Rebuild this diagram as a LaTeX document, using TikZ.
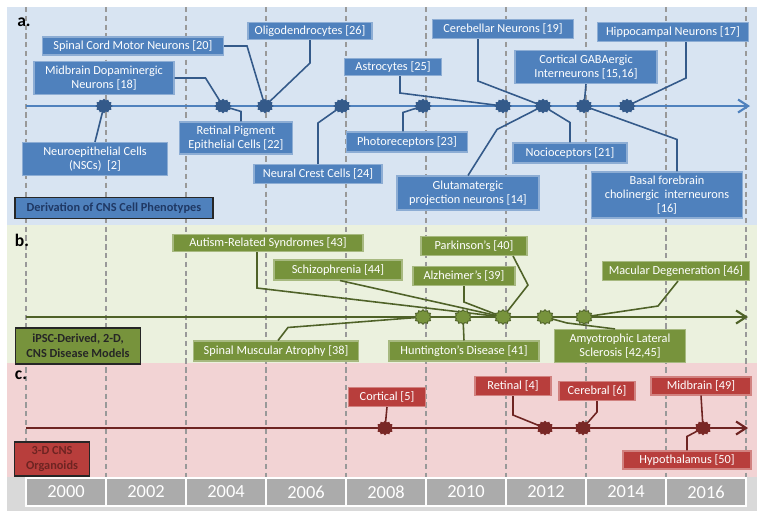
\documentclass[tikz,border=0pt]{standalone}
\usepackage{fontspec}
\setmainfont{Carlito}
\usetikzlibrary{calc,arrows.meta,shapes.geometric}

\definecolor{bandblue}{RGB}{216,228,242}
\definecolor{bandgreen}{RGB}{235,241,222}
\definecolor{bandred}{RGB}{242,211,212}
\definecolor{boxblue}{RGB}{79,129,189}
\definecolor{boxgreen}{RGB}{119,147,60}
\definecolor{boxred}{RGB}{184,62,60}
\definecolor{darkblue}{RGB}{52,90,138}
\definecolor{darkgreen}{RGB}{79,98,40}
\definecolor{darkred}{RGB}{110,36,34}
\definecolor{navy}{RGB}{31,56,100}

\begin{document}
\begin{tikzpicture}[
  x=0.2mm, y=-0.2mm,
  every node/.style={font=\fontsize{7}{8}\selectfont, align=center, inner sep=1pt},
  boxA/.style={fill=boxblue, draw=white!35!boxblue, line width=0.6pt, text=white},
  boxB/.style={fill=boxgreen, draw=white!35!boxgreen, line width=0.6pt, text=white},
  boxC/.style={fill=boxred, draw=white!35!boxred, line width=0.6pt, text=white},
  titlebox/.style={draw=black!85, line width=1pt, font=\fontsize{7}{8.5}\selectfont\bfseries},
  panel/.style={font=\fontsize{10}{12}\selectfont\bfseries},
  linkA/.style={draw=darkblue, line width=0.9pt},
  linkB/.style={draw=darkgreen, line width=0.9pt},
  linkC/.style={draw=darkred, line width=0.9pt},
  timeA/.style={draw=boxblue, line width=1.2pt, -{Straight Barb[length=2mm,width=2.6mm]}},
  timeB/.style={draw=darkgreen, line width=1.2pt, -{Straight Barb[length=2mm,width=2.6mm]}},
  timeC/.style={draw=darkred, line width=1.2pt, -{Straight Barb[length=2mm,width=2.6mm]}},
  event/.style={star, star points=12, star point ratio=1.25, minimum size=2.9mm, inner sep=0pt, xscale=1.2},
  yearline/.style={draw=black!40, line width=1.2pt, dash pattern=on 3pt off 2pt},
  yearbox/.style={fill=black!33, draw=white, line width=1pt, text=white,
    minimum width=16mm, minimum height=5.5mm, font=\fontsize{10.5}{12}\selectfont}
]
\useasboundingbox (0,0) rectangle (760,511);

% bands
\fill[bandblue] (7,7) rectangle (757,225);
\fill[bandgreen] (7,225) rectangle (757,363);
\fill[bandred] (7,363) rectangle (757,477);
\fill[black!15] (7,477) rectangle (757,511);

% year grid
\foreach \x in {26,106,...,746}
  \draw[yearline] (\x,7) -- (\x,477);
\foreach \yr [count=\i from 0] in {2000,2002,...,2016}
  \node[yearbox] (y\yr) at (66+80*\i,492) {\yr};

% time lines
\coordinate (startA) at (26,106);  \coordinate (endA) at (750,106);
\coordinate (startB) at (26,317);  \coordinate (endB) at (748,317);
\coordinate (startC) at (26,428);  \coordinate (endC) at (748,428);
\draw[timeA] (startA) -- (endA);
\draw[timeB] (startB) -- (endB);
\draw[timeC] (startC) -- (endC);

% a. cell phenotypes
\node[panel] (labA) at (24,22) {a.};
\node[boxA, minimum width=29mm, minimum height=6.6mm] (nscs) at (95,159) {Neuroepithelial Cells\\(NSCs)\ \ [2]};
\node[boxA, minimum width=28mm, minimum height=6.6mm] (dopa) at (104,78) {Midbrain Dopaminergic\\Neurons [18]};
\node[boxA, minimum width=36.2mm, minimum height=3.6mm] (spinal) at (133,46) {Spinal Cord Motor Neurons [20]};
\node[boxA, minimum width=24.8mm, minimum height=3.4mm] (oligo) at (310,31) {Oligodendrocytes [26]};
\node[boxA, minimum width=22.6mm, minimum height=6.4mm] (rpe) at (236,138) {Retinal Pigment\\Epithelial Cells [22]};
\node[boxA, minimum width=25.6mm, minimum height=3.8mm] (crest) at (318,174) {Neural Crest Cells [24]};
\node[boxA, minimum width=19.4mm, minimum height=3.4mm] (astro) at (393,67) {Astrocytes [25]};
\node[boxA, minimum width=24.2mm, minimum height=4mm] (photo) at (407,142) {Photoreceptors [23]};
\node[boxA, minimum width=28.2mm, minimum height=3.8mm] (cereb) at (503,29) {Cerebellar Neurons [19]};
\node[boxA, minimum width=30.2mm, minimum height=3.8mm] (hippo) at (673,32) {Hippocampal Neurons [17]};
\node[boxA, minimum width=28.4mm, minimum height=6.6mm] (gaba) at (586,67) {Cortical GABAergic\\Interneurons [15,16]};
\node[boxA, minimum width=22.8mm, minimum height=4mm] (noci) at (570,153) {Nocioceptors [21]};
\node[boxA, minimum width=28.4mm, minimum height=6.8mm] (gluta) at (468,193) {Glutamatergic\\projection neurons [14]};
\node[boxA, minimum width=30.2mm, minimum height=9.2mm] (basal) at (667,195) {Basal forebrain\\cholinergic\ \ interneurons\\{}[16]};
\node[titlebox, fill=boxblue, text=navy, minimum width=39.6mm, minimum height=4.2mm] (titleA) at (114,208) {Derivation of CNS Cell Phenotypes};

\foreach \x [count=\i] in {104,223,265,342,423,503,543,584,627}
  \coordinate (a\i) at (\x,106);
\draw[linkA] (nscs.north) -- (a1);
\draw[linkA] (dopa.east) -- ++(31,0) -- (a2);
\draw[linkA] (spinal.east) -- ++(23,0) -- (a3);
\draw[linkA] (oligo.south) -- ++(0,23) -- (a3);
\draw[linkA] ($(rpe.north)+(5,0)$) -- ++(0,-10) -- (a2);
\draw[linkA] (crest.north) -- ++(0,-41) -- (a4);
\draw[linkA] ($(astro.south)+(7,0)$) -- ++(0,17) -- (a6);
\draw[linkA] ($(photo.north)+(-4,0)$) -- ++(0,-19) -- (a5);
\draw[linkA] ($(cereb.south)+(-25,0)$) -- ++(0,42) -- (a7);
\draw[linkA] (gluta.north) -- ++(29,-46) -- (a7);
\draw[linkA] (noci.north) -- ++(0,-20) -- (a7);
\draw[linkA] (gaba.south) -- (a8);
\draw[linkA] ($(hippo.south)+(13,0)$) -- ++(0,36) -- (a9);
\draw[linkA] ($(basal.north)+(10,0)$) -- ++(0,-32) -- (a8);
\foreach \i in {1,...,9}
  \node[event, fill=darkblue] (ea\i) at (a\i) {};

% b. disease models
\node[panel] (labB) at (22,240) {b.};
\node[boxB, minimum width=38mm, minimum height=3.4mm] (autism) at (268,243) {Autism-Related Syndromes [43]};
\node[boxB, minimum width=25.6mm, minimum height=4mm] (schizo) at (338,270) {Schizophrenia [44]};
\node[boxB, minimum width=21.2mm, minimum height=3.8mm] (parkin) at (474,246) {Parkinson’s [40]};
\node[boxB, minimum width=20.4mm, minimum height=3.8mm] (alzh) at (464,276) {Alzheimer’s [39]};
\node[boxB, minimum width=29.4mm, minimum height=3.8mm] (macular) at (676,271) {Macular Degeneration [46]};
\node[boxB, minimum width=33mm, minimum height=4mm] (sma) at (276,351) {Spinal Muscular Atrophy [38]};
\node[boxB, minimum width=30mm, minimum height=4mm] (hunt) at (464,351) {Huntington’s Disease [41]};
\node[boxB, minimum width=26.2mm, minimum height=6.6mm] (als) at (620,346) {Amyotrophic Lateral\\Sclerosis [42,45]};
\node[titlebox, fill=boxgreen, text=black!85, minimum width=25mm, minimum height=7.2mm] (titleB) at (78,346) {iPSC-Derived, 2-D,\\CNS Disease Models};

\foreach \x [count=\i] in {423,463,503,545,584}
  \coordinate (b\i) at (\x,317);
\draw[linkB] ($(autism.south)+(-11,0)$) -- ++(0,36) -- (b3);
\draw[linkB] ($(schizo.south)+(2,0)$) -- (b3);
\draw[linkB] ($(sma.north)+(2,0)$) -- ++(10,-13) -- (b1);
\draw[linkB] (alzh.south) -- ++(0,16) -- (b3);
\draw[linkB] ($(parkin.south)+(39,0)$) -- ++(15,29) -- (b3);
\draw[linkB] (hunt.north) -- (b2);
\draw[linkB] ($(als.north)+(-5,0)$) -- ++(-48,-6) -- (b4);
\draw[linkB] ($(macular.south)+(2,0)$) -- ++(-20,25) -- (b5);
\foreach \i in {1,...,5}
  \node[event, fill=boxgreen, draw=darkgreen, line width=0.5pt] (eb\i) at (b\i) {};

% c. organoids
\node[panel] (labC) at (21,375) {c.};
\node[boxC, minimum width=15.4mm, minimum height=3.8mm] (cortical) at (387,397) {Cortical [5]};
\node[boxC, minimum width=15.2mm, minimum height=3.8mm] (retinal) at (513,386) {Retinal [4]};
\node[boxC, minimum width=15.2mm, minimum height=3.8mm] (cerebral) at (597,391) {Cerebral [6]};
\node[boxC, minimum width=20mm, minimum height=3.6mm] (midbrain) at (701,386) {Midbrain [49]};
\node[boxC, minimum width=25.6mm, minimum height=3.6mm] (hypo) at (687,460) {Hypothalamus [50]};
\node[titlebox, fill=boxred, text=darkred, minimum width=15mm, minimum height=6.8mm] (titleC) at (52,459) {3-D CNS\\Organoids};

\foreach \x [count=\i] in {385,545,583,703}
  \coordinate (c\i) at (\x,428);
\draw[linkC] (cortical.south) -- (c1);
\draw[linkC] (retinal.south) -- ++(0,19) -- (c2);
\draw[linkC] (cerebral.south) -- ++(0,11) -- (c3);
\draw[linkC] (midbrain.south) -- (c4);
\draw[linkC] (hypo.north) -- ++(0,-14) -- (c4);
\foreach \i in {1,...,4}
  \node[event, fill=darkred!85!boxred] (ec\i) at (c\i) {};
\end{tikzpicture}
\end{document}
